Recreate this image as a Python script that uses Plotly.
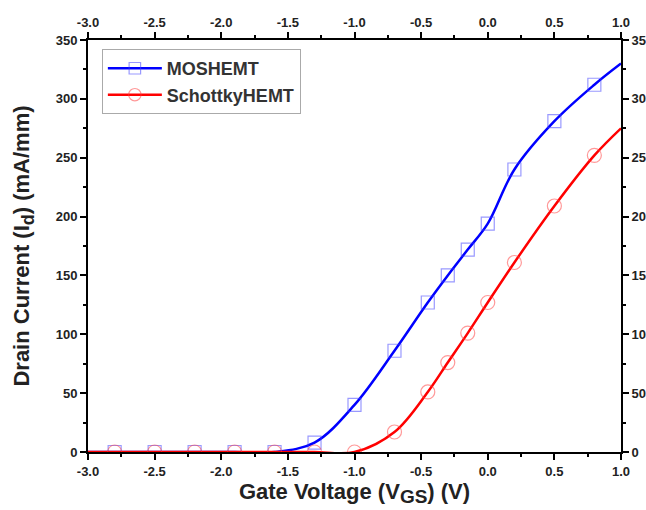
import plotly.graph_objects as go

# ---- data ----
vgs = [-3.0, -2.8, -2.5, -2.2, -1.9, -1.6, -1.3, -1.0, -0.7, -0.45, -0.3, -0.15, 0.0, 0.2, 0.5, 0.8, 1.0]
id_moshemt = [0, 0, 0, 0, 0, 0, 8, 40, 86, 127, 150, 172, 194, 240, 281, 312, 330]
id_schottky = [0, 0, 0, 0, 0, 0, 0, 0, 17, 51, 76, 101, 127, 161, 209, 252, 275]
# markers are shown for measured points only (not for curve end points)
marker_shown = [False] + [True] * 15 + [False]

x_tickvals = [-3.0, -2.5, -2.0, -1.5, -1.0, -0.5, 0.0, 0.5, 1.0]
x_ticktext = ["-3.0", "-2.5", "-2.0", "-1.5", "-1.0", "-0.5", "0.0", "0.5", "1.0"]
y_tickvals = [0, 50, 100, 150, 200, 250, 300, 350]
y_ticktext = ["0", "50", "100", "150", "200", "250", "300", "350"]

FONT = "Liberation Sans, Arial, sans-serif"
msize = [13 if s else 0 for s in marker_shown]

fig = go.Figure()
fig.add_trace(go.Scatter(
    x=vgs, y=id_moshemt, name="MOSHEMT", mode="lines+markers",
    line=dict(color="#0000ff", width=2.5, shape="spline", smoothing=1.0),
    marker=dict(symbol="square-open", size=msize, color="rgba(60,60,255,0.75)",
                line=dict(width=1.2)),
))
fig.add_trace(go.Scatter(
    x=vgs, y=id_schottky, name="SchottkyHEMT", mode="lines+markers",
    line=dict(color="#ff0000", width=2.5, shape="spline", smoothing=1.0),
    marker=dict(symbol="circle-open", size=[s + 1 if s else 0 for s in msize],
                color="rgba(255,60,60,0.75)", line=dict(width=1.2)),
))
# invisible trace to anchor the mirrored top/right axes
fig.add_trace(go.Scatter(
    x=vgs, y=id_moshemt, xaxis="x2", yaxis="y2", mode="lines",
    line=dict(width=0, color="rgba(0,0,0,0)"), showlegend=False, hoverinfo="skip",
))

axis_common = dict(
    showline=True, linecolor="black", linewidth=2, showgrid=False, zeroline=False,
    ticks="outside", ticklen=6, tickwidth=2, tickcolor="black", automargin=False,
    tickfont=dict(family=FONT, size=13, color="#222", weight="bold"),
)
minor_x = dict(dtick=0.25, tick0=-3.0, ticks="outside", ticklen=3, tickwidth=2, tickcolor="black", showgrid=False)
minor_y = dict(dtick=25, tick0=0, ticks="outside", ticklen=3, tickwidth=2, tickcolor="black", showgrid=False)

fig.update_layout(
    width=646, height=510,
    margin=dict(l=88, r=25, t=40, b=58),
    paper_bgcolor="white", plot_bgcolor="white",
    font=dict(family=FONT, color="#222"),
    xaxis=dict(range=[-3.0, 1.0], tickmode="array", tickvals=x_tickvals, ticktext=x_ticktext,
               minor=minor_x, side="bottom",
               title=dict(text="Gate Voltage (V<sub><span style='font-size:19px'>GS</span></sub>) (V)",
                          font=dict(family=FONT, size=22, color="#222", weight="bold"), standoff=0),
               **axis_common),
    xaxis2=dict(range=[-3.0, 1.0], tickmode="array", tickvals=x_tickvals, ticktext=x_ticktext,
                minor=minor_x, side="top", overlaying="x", anchor="y", **axis_common),
    yaxis=dict(range=[0, 350], tickmode="array", tickvals=y_tickvals, ticktext=y_ticktext,
               minor=minor_y, side="left",
               title=dict(text="Drain Current (I<sub><span style='font-size:18px'>d</span></sub>) (mA/mm)",
                          font=dict(family=FONT, size=22, color="#222", weight="bold"), standoff=20),
               **axis_common),
    yaxis2=dict(range=[0, 350], tickmode="array", tickvals=y_tickvals, ticktext=y_ticktext,
                minor=minor_y, side="right", overlaying="y", anchor="x", **axis_common),
    legend=dict(x=0.026, y=0.978, xanchor="left", yanchor="top",
                bordercolor="#aaaaaa", borderwidth=1, bgcolor="white",
                font=dict(family=FONT, size=18, color="#333", weight="bold"),
                itemwidth=54, tracegroupgap=0),
    showlegend=True,
)

fig.write_html(
    "out.html",
    config={"displayModeBar": False},
    post_script="document.body.style.margin='0';document.body.style.overflow='hidden';",
)
